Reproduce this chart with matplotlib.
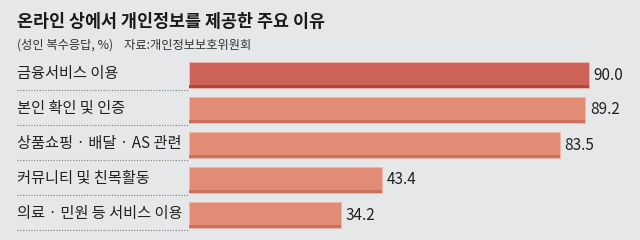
import matplotlib.pyplot as plt
from matplotlib import transforms

plt.rcParams['font.family'] = ['Noto Sans CJK KR', 'DejaVu Sans']

categories = ['금융서비스 이용', '본인 확인 및 인증', '상품쇼핑 · 배달 · AS 관련',
              '커뮤니티 및 친목활동', '의료 · 민원 등 서비스 이용']
values = [90.0, 89.2, 83.5, 43.4, 34.2]
title = '온라인 상에서 개인정보를 제공한 주요 이유'
subtitle = '(성인 복수응답, %)    자료:개인정보보호위원회'

bg = '#e6e7e9'
W, H = 640, 240
fig = plt.figure(figsize=(6.4, 2.4), dpi=100, facecolor=bg)

# axes placed in pixel terms
left, right = 189, 640
top, bottom = 57.5, 232.5
ax = fig.add_axes([left / W, (H - bottom) / H, (right - left) / W, (bottom - top) / H])
ax.set_facecolor(bg)
ax.set_xlim(0, (right - left) / 4.44)
ax.set_ylim(len(values) - 0.5, -0.5)
ax.axis('off')

bh = 0.74
stripe = 0.09
for i, v in enumerate(values):
    main = '#cd6259' if i == 0 else '#e28b75'
    dark = '#b2453f' if i == 0 else '#c8725e'
    ax.barh(i, v, height=bh, color=main, edgecolor='#f0b9a8', linewidth=0.6)
    ax.barh(i + bh / 2 - stripe / 2, v, height=stripe, color=dark, linewidth=0)
    ax.text(v + 1.1, i, f'{v:.1f}', va='center', ha='left', fontsize=11,
            color='#222222')

tr = transforms.blended_transform_factory(fig.transFigure, ax.transData)
for i, c in enumerate(categories):
    ax.text(17 / W, i - 0.03, c, transform=tr, va='center', ha='left',
            fontsize=11, color='#222222')
    ax.plot([17 / W, left / W], [i + bh / 2 + 0.05] * 2, transform=tr,
            color='#7a7a7a', linestyle=(0, (1, 1.5)), linewidth=0.8,
            clip_on=False)

fig.text(17 / W, 1 - 22 / H, title, fontsize=12.5, fontweight='bold',
         va='center', ha='left', color='#1a1a1a')
fig.text(17 / W, 1 - 45 / H, subtitle, fontsize=8.8, va='center', ha='left',
         color='#333333')

fig.savefig('out.png', dpi=100, facecolor=bg)
